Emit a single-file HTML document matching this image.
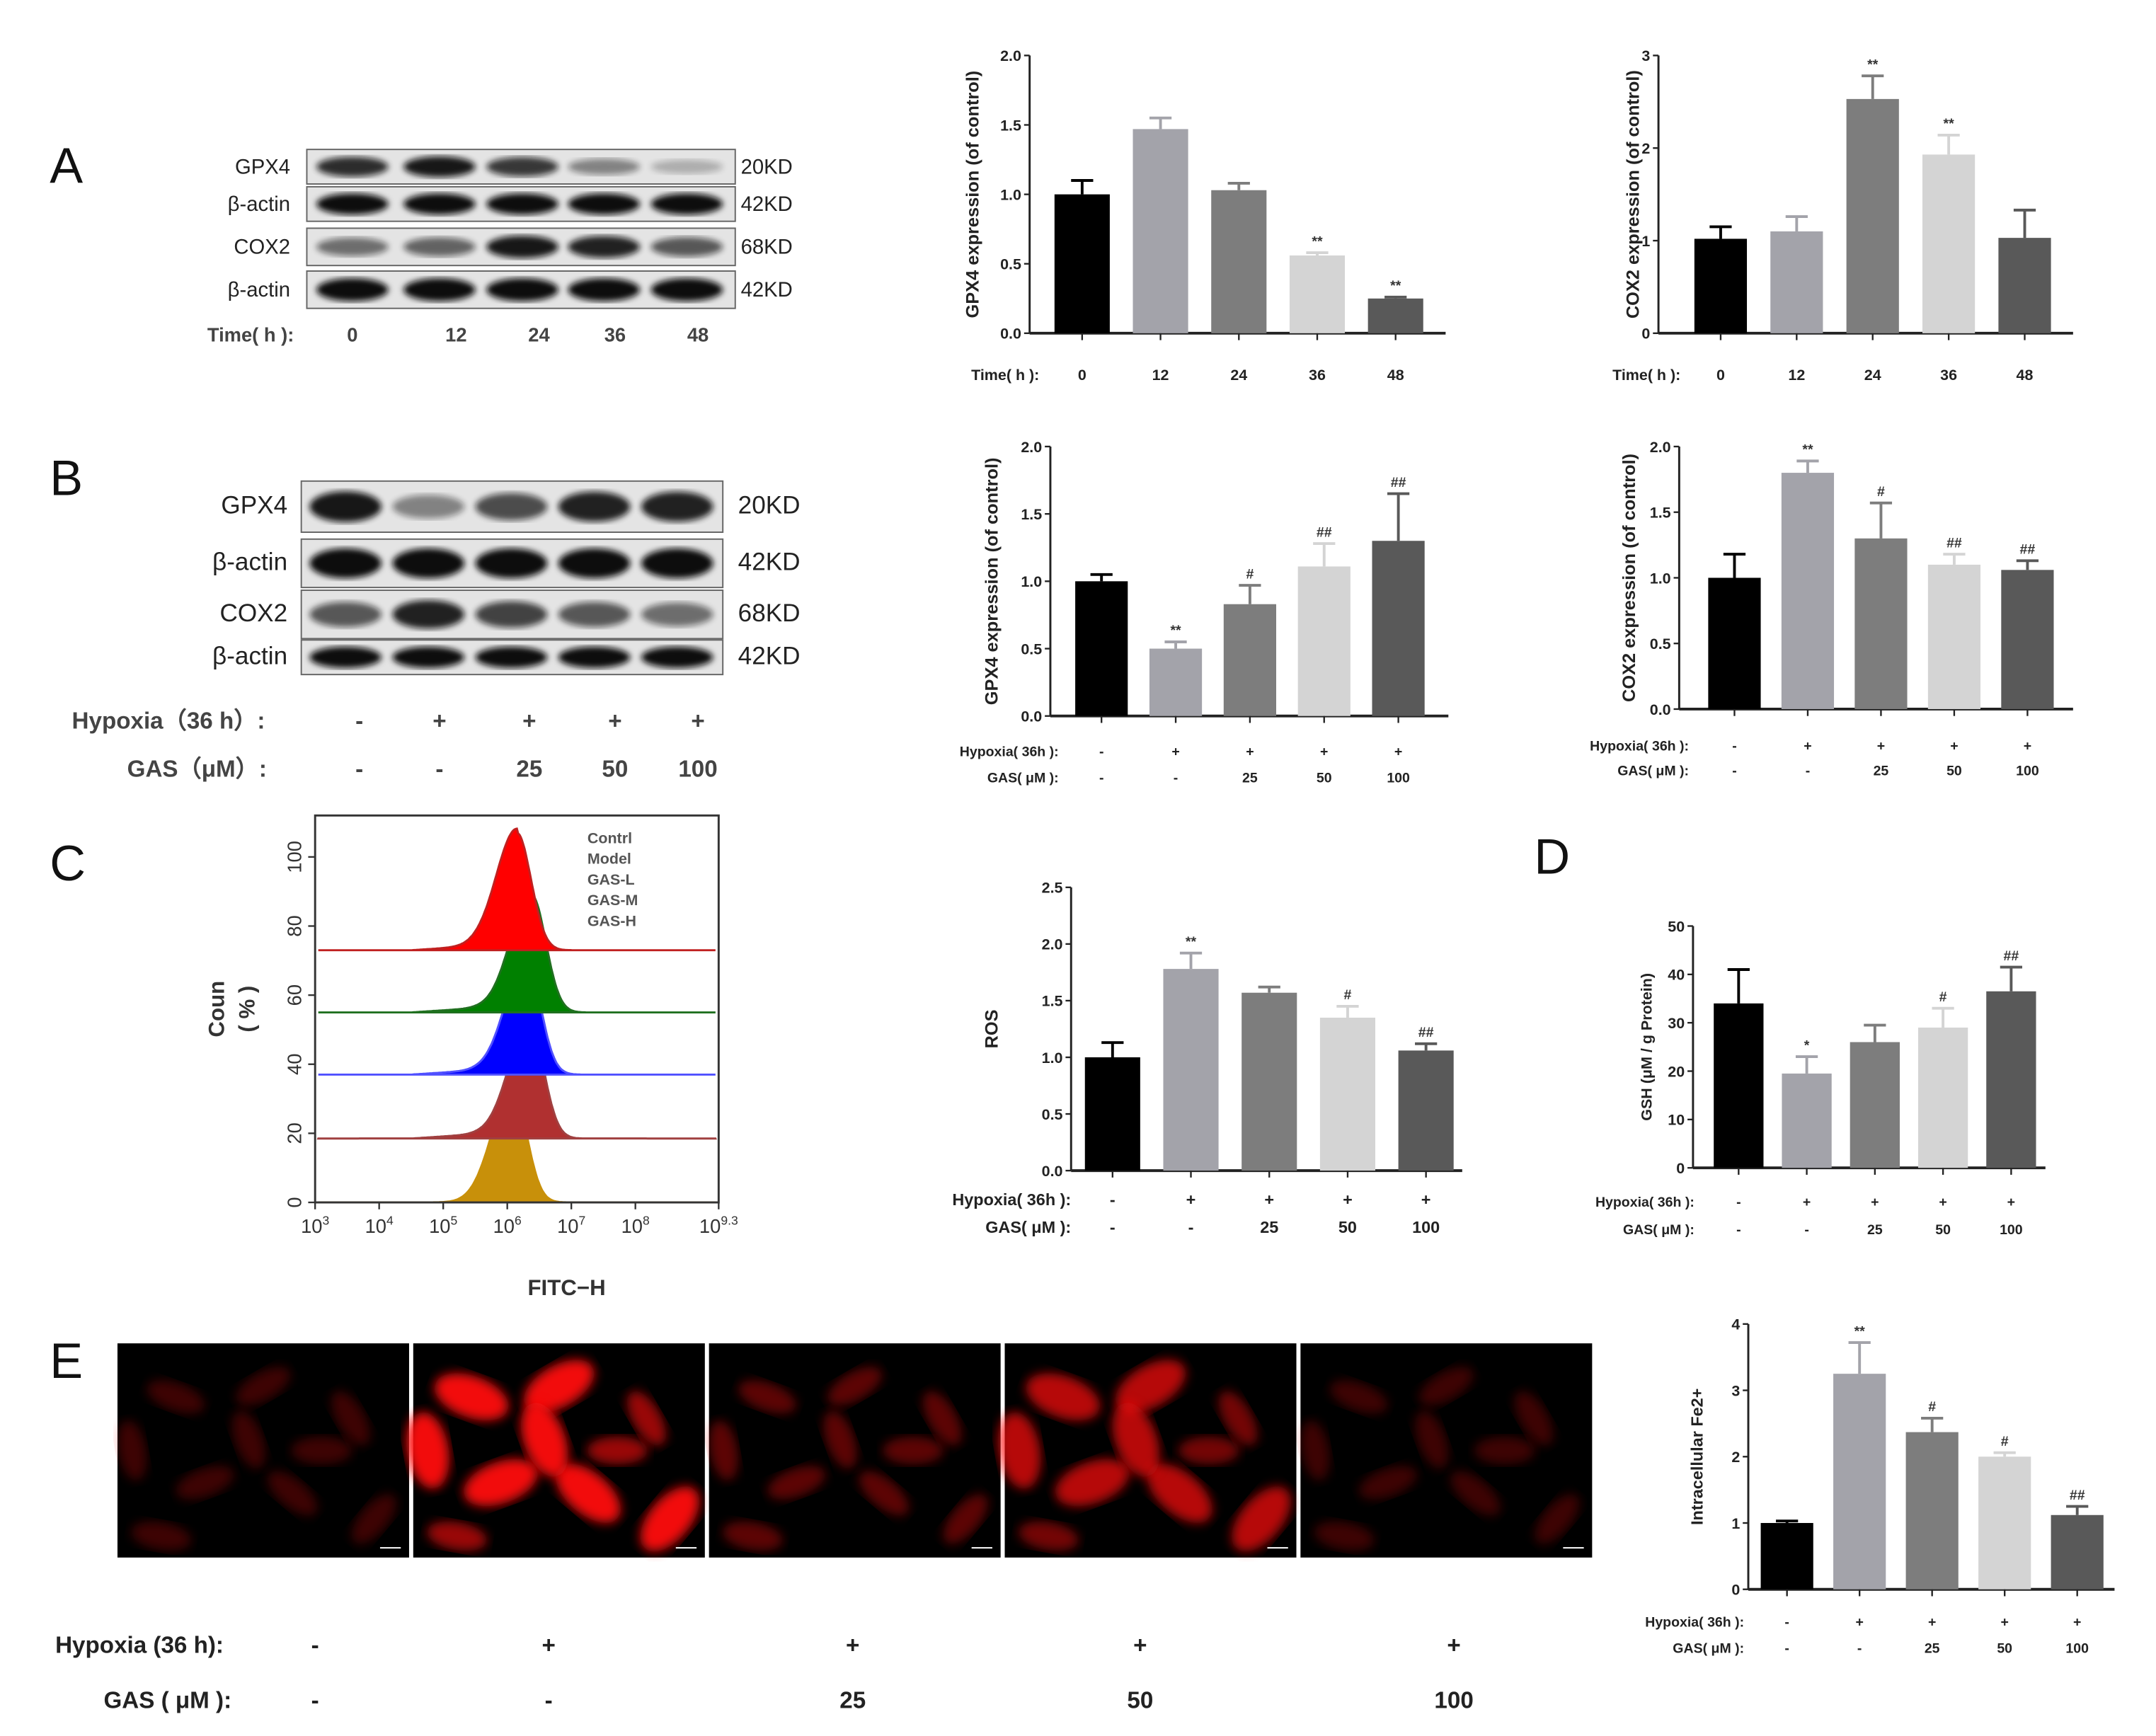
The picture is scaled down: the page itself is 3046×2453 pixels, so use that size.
<!DOCTYPE html>
<html><head><meta charset="utf-8">
<style>
html,body{margin:0;padding:0;background:#fff;}
svg{display:block;font-family:"Liberation Sans",Arial,sans-serif;}
</style></head>
<body>
<svg id="fig" width="3046" height="2453" viewBox="0 0 1560 1256" xmlns="http://www.w3.org/2000/svg">
<defs>
<filter id="blur2"><feGaussianBlur stdDeviation="2.2"/></filter>
<filter id="blur4"><feGaussianBlur stdDeviation="4"/></filter>
</defs>
<g id="root"></g>
</svg>
<script>
// ---------- data ----------
const gpxTimeVals=[1.0,1.47,1.03,0.56,0.25];
const gpxTimeErr=[0.1,0.08,0.05,0.02,0.01];
const gpxTimeSig=['','','','**','**'];
const coxTimeVals=[1.02,1.1,2.53,1.93,1.03];
const coxTimeErr=[0.13,0.16,0.25,0.21,0.3];
const coxTimeSig=['','','**','**',''];
const timeLabels=['0','12','24','36','48'];
const gpxGasVals=[1.0,0.5,0.83,1.11,1.3];
const gpxGasErr=[0.05,0.05,0.14,0.17,0.35];
const gpxGasSig=['','**','#','##','##'];
const coxGasVals=[1.0,1.8,1.3,1.1,1.06];
const coxGasErr=[0.18,0.09,0.27,0.08,0.07];
const coxGasSig=['','**','#','##','##'];
const rosVals=[1.0,1.78,1.57,1.35,1.06];
const rosErr=[0.13,0.14,0.05,0.1,0.06];
const rosSig=['','**','','#','##'];
const gshVals=[34,19.5,26,29,36.5];
const gshErr=[7,3.5,3.5,4,5];
const gshSig=['','*','','#','##'];
const feVals=[1.0,3.25,2.37,2.0,1.12];
const feErr=[0.03,0.47,0.21,0.06,0.13];
const feSig=['','**','#','#','##'];
const hypoxiaLabels=['-','+','+','+','+'];
const gasLabels=['-','-','25','50','100'];
const flowPeaks=[6.15,6.38,6.3,6.35,6.08];
const flowHeights=[34,34,33,33,33];
const flowBaselines=[73,55,37,18.5,0];
const flowNames=['Contrl','Model','GAS-L','GAS-M','GAS-H'];
const barColors=['#000000','#a3a3aa','#7d7d7d','#d4d4d4','#595959'];

const NS='http://www.w3.org/2000/svg';
const root=document.getElementById('root');
function el(tag,attrs,parent,text){
  const e=document.createElementNS(NS,tag);
  for(const k in attrs)e.setAttribute(k,attrs[k]);
  if(text!==undefined)e.textContent=text;
  (parent||root).appendChild(e);return e;
}
function txt(x,y,s,size,opts,parent){
  opts=opts||{};
  const t=el('text',{x:x,y:y,'font-size':size,'text-anchor':opts.anchor||'start','font-weight':opts.bold?'bold':'normal',fill:opts.fill||'#222'},parent,s);
  if(opts.rot)t.setAttribute('transform','rotate(-90 '+x+' '+y+')');
  
  
  return t;
}

// ---------- bar chart ----------
function barChart(cfg){
  const g=el('g',{});
  
  
  const yS=v=>cfg.y0-(v-cfg.min)/(cfg.max-cfg.min)*(cfg.y0-cfg.yTop);
  const ax=el('line',{x1:cfg.ax,y1:cfg.yTop,x2:cfg.ax,y2:cfg.y0,stroke:'#222','stroke-width':1.5},g);
  
  const bx=el('line',{x1:cfg.ax,y1:cfg.y0,x2:cfg.xEnd,y2:cfg.y0,stroke:'#222','stroke-width':2},g);
  
  cfg.ticks.forEach(t=>{
    const y=yS(t);
    el('line',{x1:cfg.ax-4,y1:y,x2:cfg.ax,y2:y,stroke:'#222','stroke-width':1.2},g);
    txt(cfg.ax-6,y+4,cfg.tickFmt(t),11,{anchor:'end',bold:true,name:'y-tick-label'},g);
  });
  txt(cfg.labX,(cfg.y0+cfg.yTop)/2,cfg.ylab,cfg.ylabSize||13,{anchor:'middle',rot:true,bold:true,name:'y-axis-title'},g);
  const n=cfg.vals.length;
  for(let i=0;i<n;i++){
    const cx=cfg.x1+i*cfg.step;
    const w=cfg.bw;
    const top=yS(cfg.vals[i]);
    const r=el('rect',{x:cx-w/2,y:top,width:w,height:cfg.y0-top,fill:barColors[i]},g);
    
    const et=yS(cfg.vals[i]+cfg.err[i]);
    el('line',{x1:cx,y1:top,x2:cx,y2:et,stroke:barColors[i],'stroke-width':2},g);
    el('line',{x1:cx-8,y1:et,x2:cx+8,y2:et,stroke:barColors[i],'stroke-width':2},g);
    if(cfg.sig[i])txt(cx,et-5,cfg.sig[i],10,{anchor:'middle',bold:true,name:'significance-mark',fill:'#333'},g);
    el('line',{x1:cx,y1:cfg.y0,x2:cx,y2:cfg.y0+5,stroke:'#222','stroke-width':1.2},g);
    cfg.rows.forEach(row=>{
      txt(cx,row.y,row.labels[i],row.size||11,{anchor:'middle',bold:true,name:'x-tick-label'},g);
    });
  }
  cfg.rows.forEach(row=>{
    txt(row.hx,row.y,row.head,row.size||11,{anchor:'end',bold:true,name:'x-row-header'},g);
  });
}
const f1=t=>t.toFixed(1), f0=t=>String(t);

barChart({name:'gpx4-time-chart',vals:gpxTimeVals,err:gpxTimeErr,sig:gpxTimeSig,ax:745,y0:241,yTop:40,min:0,max:2,xEnd:1046,
  ticks:[0,0.5,1,1.5,2],tickFmt:f1,x1:783,step:56.7,bw:40,labX:708,ylab:'GPX4 expression (of control)',
  rows:[{y:275,labels:timeLabels,head:'Time( h ):',hx:752}]});
barChart({name:'cox2-time-chart',vals:coxTimeVals,err:coxTimeErr,sig:coxTimeSig,ax:1200,y0:241,yTop:40,min:0,max:3,xEnd:1500,
  ticks:[0,1,2,3],tickFmt:f0,x1:1245,step:55,bw:38,labX:1186,ylab:'COX2 expression (of control)',
  rows:[{y:275,labels:timeLabels,head:'Time( h ):',hx:1216}]});
barChart({name:'gpx4-gas-chart',vals:gpxGasVals,err:gpxGasErr,sig:gpxGasSig,ax:760,y0:518,yTop:323,min:0,max:2,xEnd:1048,
  ticks:[0,0.5,1,1.5,2],tickFmt:f1,x1:797,step:53.7,bw:38,labX:722,ylab:'GPX4 expression (of control)',
  rows:[{y:547,labels:hypoxiaLabels,head:'Hypoxia( 36h ):',hx:766,size:10},{y:566,labels:gasLabels,head:'GAS( μM ):',hx:766,size:10}]});
barChart({name:'cox2-gas-chart',vals:coxGasVals,err:coxGasErr,sig:coxGasSig,ax:1215,y0:513,yTop:323,min:0,max:2,xEnd:1500,
  ticks:[0,0.5,1,1.5,2],tickFmt:f1,x1:1255,step:53,bw:38,labX:1183,ylab:'COX2 expression (of control)',
  rows:[{y:543,labels:hypoxiaLabels,head:'Hypoxia( 36h ):',hx:1222,size:10},{y:561,labels:gasLabels,head:'GAS( μM ):',hx:1222,size:10}]});
barChart({name:'ros-chart',vals:rosVals,err:rosErr,sig:rosSig,ax:775,y0:847,yTop:642,min:0,max:2.5,xEnd:1058,
  ticks:[0,0.5,1,1.5,2,2.5],tickFmt:f1,x1:805,step:56.7,bw:40,labX:722,ylab:'ROS',
  rows:[{y:872,labels:hypoxiaLabels,head:'Hypoxia( 36h ):',hx:775,size:12},{y:892,labels:gasLabels,head:'GAS( μM ):',hx:775,size:12}]});
barChart({name:'gsh-chart',vals:gshVals,err:gshErr,sig:gshSig,ax:1225,y0:845,yTop:670,min:0,max:50,xEnd:1480,
  ticks:[0,10,20,30,40,50],tickFmt:f0,x1:1258,step:49.3,bw:36,labX:1195,ylab:'GSH (μM / g Protein)',ylabSize:11,
  rows:[{y:873,labels:hypoxiaLabels,head:'Hypoxia( 36h ):',hx:1226,size:10},{y:893,labels:gasLabels,head:'GAS( μM ):',hx:1226,size:10}]});
barChart({name:'fe2-chart',vals:feVals,err:feErr,sig:feSig,ax:1265,y0:1150,yTop:958,min:0,max:4,xEnd:1530,
  ticks:[0,1,2,3,4],tickFmt:f0,x1:1293,step:52.5,bw:38,labX:1232,ylab:'Intracellular Fe2+',ylabSize:12,
  rows:[{y:1177,labels:hypoxiaLabels,head:'Hypoxia( 36h ):',hx:1262,size:10},{y:1196,labels:gasLabels,head:'GAS( μM ):',hx:1262,size:10}]});

// ---------- panel letters ----------
[['A',36,132],['B',36,358],['C',36,637],['D',1110,632],['E',36,997]].forEach(p=>{
  txt(p[1],p[2],p[0],36,{name:'panel-label-'+p[0].toLowerCase(),fill:'#111'});
});

// ---------- western blots ----------
function blot(name,x,w,rows,lanes,labelX,kdX,fs){
  const g=el('g',{});
  rows.forEach(r=>{
    el('rect',{x:x,y:r.y,width:w,height:r.h,fill:'#e4e4e4',stroke:'#666','stroke-width':1},g);
    lanes.forEach((lx,i)=>{
      const it=r.int[i];
      const e=el('ellipse',{cx:lx,cy:r.y+r.h/2,rx:26,ry:r.h*0.28*(0.6+it*0.5),fill:'#111',opacity:Math.min(1,it),filter:'url(#blur2)'},g);
      
    });
    txt(labelX,r.y+r.h/2+5,r.label,fs,{anchor:'end',name:'protein-label'},g);
    txt(kdX,r.y+r.h/2+5,r.kd,fs,{name:'kd-label'},g);
  });
}
blot('blot-a',222,310,[
  {y:108,h:25,label:'GPX4',kd:'20KD',int:[0.85,0.95,0.8,0.45,0.25]},
  {y:135,h:25,label:'β-actin',kd:'42KD',int:[1,1,1,1,1]},
  {y:165,h:27,label:'COX2',kd:'68KD',int:[0.55,0.6,0.95,0.9,0.65]},
  {y:196,h:27,label:'β-actin',kd:'42KD',int:[1,1,1,1,1]}],
  [255,318,378,437,497],210,536,15);
blot('blot-b',218,305,[
  {y:348,h:37,label:'GPX4',kd:'20KD',int:[0.95,0.45,0.7,0.9,0.9]},
  {y:390,h:35,label:'β-actin',kd:'42KD',int:[1,1,1,1,1]},
  {y:427,h:35,label:'COX2',kd:'68KD',int:[0.65,0.9,0.75,0.65,0.55]},
  {y:463,h:25,label:'β-actin',kd:'42KD',int:[1,1,1,1,1]}],
  [250,310,370,430,490],208,534,18);
const blotATime=[['Time( h ):',150,'start'],['0',255],['12',330],['24',390],['36',445],['48',505]];
blotATime.forEach(t=>txt(t[1],247,t[0],14,{anchor:t[2]||'middle',bold:true,name:'blot-time-label',fill:'#444'}));
const bl=[260,318,383,445,505];
txt(52,527,'Hypoxia（36 h）:',17,{bold:true,name:'blot-hypoxia-header',fill:'#444'});
txt(92,562,'GAS（μM）:',17,{bold:true,name:'blot-gas-header',fill:'#444'});
bl.forEach((x,i)=>{txt(x,527,hypoxiaLabels[i],17,{anchor:'middle',bold:true,name:'blot-hypoxia-value',fill:'#444'});
  txt(x,562,gasLabels[i],17,{anchor:'middle',bold:true,name:'blot-gas-value',fill:'#444'});});

// ---------- flow cytometry ----------
(function(){
  const g=el('g',{});
  const L=228,R=520,T=590,B=870;
  const xS=v=>L+(v-3)/(9.3-3)*(R-L);
  const yS=v=>B-v/100*(B-620);
  const cols=['#ff0000','#008000','#0000ff','#b03030','#c8900a'];
  const lines=['#c02020','#207020','#5050ff','#a04040','#c8900a'];
  for(let k=4;k>=0;k--){
    let d='M'+xS(3.05)+','+yS(flowBaselines[k]);
    for(let v=3.05;v<=9.25;v+=0.02){
      const s=v<flowPeaks[k]?0.32:0.22;
      let h=flowHeights[k]*Math.exp(-Math.pow((v-flowPeaks[k])/s,2)/2);
      if(k<4 && v>4.5 && v<flowPeaks[k]) h+=1.2*Math.min(1,(v-4.5)/1);
      d+=' L'+xS(v).toFixed(1)+','+yS(flowBaselines[k]+h).toFixed(1);
    }
    d+=' L'+xS(9.25)+','+yS(flowBaselines[k])+' Z';
    const p=el('path',{d:d,fill:cols[k],stroke:lines[k],'stroke-width':1.5},g);
    
  }
  el('rect',{x:L,y:T,width:R-L,height:B-T,fill:'none',stroke:'#333','stroke-width':1.5},g);
  [0,20,40,60,80,100].forEach(t=>{
    el('line',{x1:L-5,y1:yS(t),x2:L,y2:yS(t),stroke:'#333','stroke-width':1.2},g);
    txt(L-10,yS(t),String(t),14,{anchor:'middle',rot:true,name:'flow-y-tick',fill:'#333'},g);
  });
  ['3','4','5','6','7','8','9.3'].forEach(e=>{
    const x=xS(parseFloat(e));
    el('line',{x1:x,y1:B,x2:x,y2:B+5,stroke:'#333','stroke-width':1.2},g);
    const t=el('text',{x:x,y:B+22,'font-size':14,'text-anchor':'middle',fill:'#333'},g);
    
    t.textContent='10';
    const s=el('tspan',{'font-size':9,dy:-6},t);s.textContent=e;
  });
  flowNames.forEach((n,i)=>txt(425,610+i*15,n,11,{bold:true,name:'legend-entry',fill:'#555'},g));
  txt(162,730,'Coun',16,{anchor:'middle',rot:true,bold:true,name:'flow-y-title',fill:'#333'},g);
  txt(184,730,'( % )',16,{anchor:'middle',rot:true,bold:true,name:'flow-y-title-unit',fill:'#333'},g);
  txt(410,937,'FITC−H',16,{anchor:'middle',bold:true,name:'flow-x-title',fill:'#333'},g);
})();

// ---------- fluorescence images ----------
const imgX=[85,299,513,727,941];
const imgBright=[0.4,1,0.6,0.75,0.4];
const cells=[[0.2,0.25,20],[0.5,0.2,-30],[0.8,0.35,60],[0.3,0.65,-20],[0.6,0.7,40],[0.15,0.9,10],[0.88,0.82,-50],[0.45,0.45,70],[0.7,0.5,0],[0.05,0.5,80]];
imgX.forEach((x,i)=>{
  const g=el('g',{});
  el('rect',{x:x,y:972,width:211,height:155,fill:'#000'},g);
  const cg=el('g',{},g);
  cg.setAttribute('clip-path','inset(0)');
  cells.forEach((c,j)=>{
    const big=(i===1||i===3)&&(j%3!==2);
    const cx=x+c[0]*211, cy=972+c[1]*155;
    el('ellipse',{cx:cx,cy:cy,rx:big?28:22,ry:big?15:10,fill:'#ff1010',opacity:imgBright[i]*(big?0.95:0.6),filter:'url(#blur4)',transform:'rotate('+c[2]+' '+cx+' '+cy+')'},cg);
  });
  el('line',{x1:x+190,y1:1120,x2:x+205,y2:1120,stroke:'#fff','stroke-width':1},g);
});
const imgLab=[228,397,617,825,1052];
txt(40,1196,'Hypoxia (36 h):',17,{bold:true,name:'image-hypoxia-header'});
txt(75,1236,'GAS ( μM ):',17,{bold:true,name:'image-gas-header'});
imgLab.forEach((x,i)=>{txt(x,1196,hypoxiaLabels[i],17,{anchor:'middle',bold:true,name:'image-hypoxia-value'});
  txt(x,1236,gasLabels[i],17,{anchor:'middle',bold:true,name:'image-gas-value'});});
</script>
</body></html>
